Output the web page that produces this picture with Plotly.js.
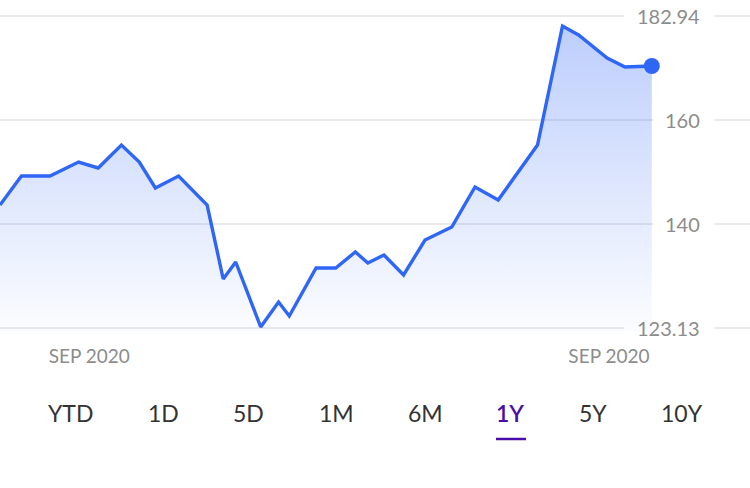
<!DOCTYPE html>
<html>
<head>
<meta charset="utf-8">
<script src="https://cdn.plot.ly/plotly-3.0.1.min.js"></script>
<style>
  html, body { margin: 0; padding: 0; background: #fff; }
  #chart { width: 750px; height: 488px; }
</style>
</head>
<body>
<div id="chart"></div>
<script>
// price series (day index within the visible window, closing price)
var days = [0, 12, 28, 44, 55, 68, 78, 87, 100, 116, 125, 132, 146, 156, 162, 177, 188, 199, 206,
            215, 226, 238, 253, 266, 279, 301, 315, 324, 340, 350, 365];
var prices = [143.65, 149.23, 149.23, 151.92, 150.77, 155.19, 151.92, 146.92, 149.23, 143.65,
              129.42, 132.69, 120.19, 125.0, 122.31, 131.54, 131.54, 134.62, 132.5,
              134.04, 130.19, 136.92, 139.42, 147.12, 144.62, 155.19, 178.08, 176.35, 171.92, 170.19, 170.38];

var yTickVals = [120, 140, 160, 180];
var yTickText = ['123.13', '140', '160', '182.94'];
var xTickVals = [50, 341];
var xTickText = ['SEP 2020', 'SEP 2020'];

var ranges = ['YTD', '1D', '5D', '1M', '6M', '1Y', '5Y', '10Y'];
var selectedRange = '1Y';

var blue = '#2f66f6';
var purple = '#4a0dab';
var gridColor = '#e3e3e3';
var font = 'Lato, "Source Sans Pro", sans-serif';

// plot area in pixels, used to place the labels and buttons
var W = 750, H = 488, mTop = 13, mBot = 157;
function px(x) { return x / W; }
function py(y) { return (H - mBot - y) / (H - mTop - mBot); }

var line = {
  x: days, y: prices,
  type: 'scatter', mode: 'lines',
  line: { color: blue, width: 3.4 },
  fill: 'tozeroy',
  fillgradient: {
    type: 'vertical', start: 120, stop: 180,
    colorscale: [[0, 'rgba(47,102,246,0.02)'], [1, 'rgba(47,102,246,0.33)']]
  },
  hoverinfo: 'skip'
};

var last = {
  x: days.slice(-1), y: prices.slice(-1),
  type: 'scatter', mode: 'markers',
  marker: { color: blue, size: 16 },
  cliponaxis: false,
  hoverinfo: 'skip'
};

// gridlines drawn as two pieces so the price label sits in a gap
var gapStart = [624, 653, 653, 624];
var gapEnd = 714;
var shapes = [];
yTickVals.forEach(function (v, i) {
  shapes.push({ type: 'line', xref: 'paper', yref: 'y', x0: 0, x1: px(gapStart[i]), y0: v, y1: v,
    line: { color: gridColor, width: 1.5 }, layer: 'below' });
  shapes.push({ type: 'line', xref: 'paper', yref: 'y', x0: px(gapEnd), x1: 1, y0: v, y1: v,
    line: { color: gridColor, width: 1.5 }, layer: 'below' });
});
// underline of the selected range
shapes.push({ type: 'line', xref: 'paper', yref: 'paper', x0: px(496), x1: px(526), y0: py(439), y1: py(439),
  line: { color: purple, width: 2.5 } });

var annotations = yTickVals.map(function (v, i) {
  return {
    text: yTickText[i], xref: 'paper', yref: 'y',
    x: px(702), y: v, xanchor: 'right', yanchor: 'middle',
    showarrow: false,
    font: { family: font, size: 20, color: '#8c8c8c' }
  };
});

var buttonX = [70, 163, 248, 336, 426, 510, 593, 682];
ranges.forEach(function (r, i) {
  var sel = r === selectedRange;
  annotations.push({
    text: r, xref: 'paper', yref: 'paper',
    x: px(buttonX[i]), y: py(413), xanchor: 'center', yanchor: 'middle',
    showarrow: false,
    font: { family: font, size: 23, color: sel ? purple : '#333333', weight: sel ? 600 : 400 }
  });
});

var layout = {
  width: W, height: H,
  margin: { l: 0, r: 0, t: mTop, b: mBot },
  paper_bgcolor: '#fff', plot_bgcolor: '#fff',
  showlegend: false,
  font: { family: font },
  xaxis: {
    range: [0, 420], showgrid: false, zeroline: false, showline: false,
    ticks: '', tickvals: xTickVals, ticktext: xTickText,
    tickfont: { family: font, size: 19, color: '#8c8c8c' },
    ticklabelstandoff: 12, fixedrange: true
  },
  yaxis: {
    range: [119.42, 180.58], ticks: '', tickvals: yTickVals, showticklabels: false,
    showgrid: false, zeroline: false, showline: false, fixedrange: true
  },
  shapes: shapes,
  annotations: annotations
};

Plotly.newPlot('chart', [line, last], layout, { staticPlot: true, displayModeBar: false });
</script>
</body>
</html>
